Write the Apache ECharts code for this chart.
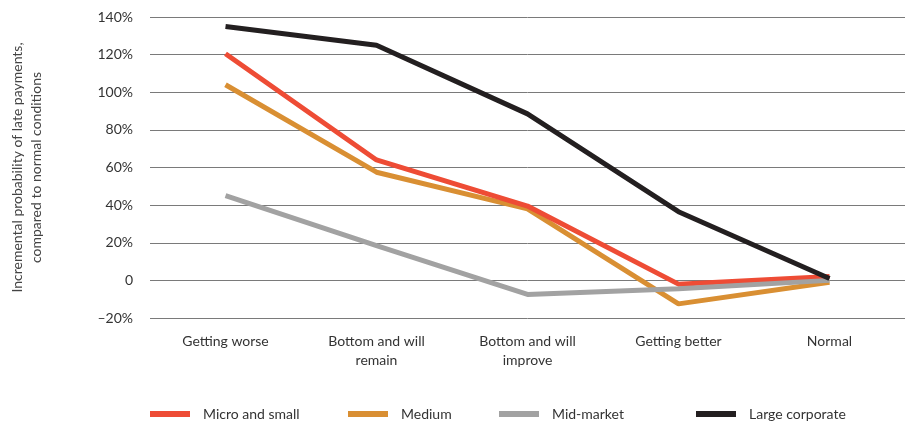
<!DOCTYPE html>
<html>
<head>
<meta charset="utf-8">
<script src="https://cdn.jsdelivr.net/npm/echarts@6/dist/echarts.min.js"></script>
<style>
  html, body { margin: 0; padding: 0; background: #fff; }
  #chart { width: 907px; height: 425px; }
</style>
</head>
<body>
<div id="chart"></div>
<script>
// categories (x axis)
var categories = ['Getting worse', 'Bottom and will\nremain', 'Bottom and will\nimprove', 'Getting better', 'Normal'];

// series values, in percent
var microSmall = [120.5, 64, 39.5, -2, 2];
var medium = [104, 57.5, 38, -12.5, -1];
var midMarket = [45, 18.5, -7.5, -4.5, 0];
var largeCorporate = [135, 125, 88.5, 36.5, 1];

var seriesNames = ['Micro and small', 'Medium', 'Mid-market', 'Large corporate'];
var colors = ['#ee4c35', '#d98f33', '#a2a2a2', '#231f20'];

// y axis ticks
var yMin = -20, yMax = 140, yStep = 20;

var font = 'Lato, "Open Sans", sans-serif';

var myChart = echarts.init(document.getElementById('chart'));

function legendAt(idx, left) {
  return {
    data: [seriesNames[idx]],
    left: left,
    top: 407,
    icon: 'rect',
    itemWidth: 40,
    itemHeight: 6,
    padding: 0,
    textStyle: {
      color: '#333',
      fontSize: 14,
      fontFamily: font,
      padding: [0, 0, 0, 8]
    }
  };
}

function lineSeries(idx, data, z) {
  return {
    name: seriesNames[idx],
    type: 'line',
    data: data,
    z: z,
    symbol: 'none',
    color: colors[idx],
    lineStyle: { width: 5, color: colors[idx] },
    animation: false
  };
}

var option = {
  animation: false,
  grid: { left: 150, right: 2, top: 17, bottom: 107, outerBoundsMode: 'none' },
  legend: [
    legendAt(0, 150),
    legendAt(1, 348),
    legendAt(2, 499),
    legendAt(3, 696)
  ],
  xAxis: {
    type: 'category',
    data: categories,
    boundaryGap: true,
    axisLine: { show: false },
    axisTick: { show: false },
    axisLabel: {
      color: '#333',
      fontSize: 14,
      fontFamily: font,
      margin: 14,
      lineHeight: 19
    }
  },
  yAxis: {
    type: 'value',
    min: yMin,
    max: yMax,
    interval: yStep,
    axisLine: { show: false },
    axisTick: { show: false },
    splitLine: { lineStyle: { color: '#7a7a7a', width: 1 } },
    axisLabel: {
      color: '#333',
      fontSize: 14,
      fontFamily: font,
      margin: 17,
      formatter: function (v) {
        if (v === 0) return '0';
        if (v < 0) return '\u2013' + Math.abs(v) + '%';
        return v + '%';
      }
    },
    name: 'Incremental probability of late payments,\ncompared to normal conditions',
    nameLocation: 'middle',
    nameRotate: 90,
    nameGap: 104,
    nameTextStyle: {
      color: '#444',
      fontSize: 14,
      fontFamily: font,
      lineHeight: 19
    }
  },
  series: [
    lineSeries(1, medium, 2),
    lineSeries(0, microSmall, 3),
    lineSeries(2, midMarket, 4),
    lineSeries(3, largeCorporate, 5)
  ]
};

myChart.setOption(option);

window.addEventListener('resize', function () {
  myChart.resize();
});
</script>
</body>
</html>
